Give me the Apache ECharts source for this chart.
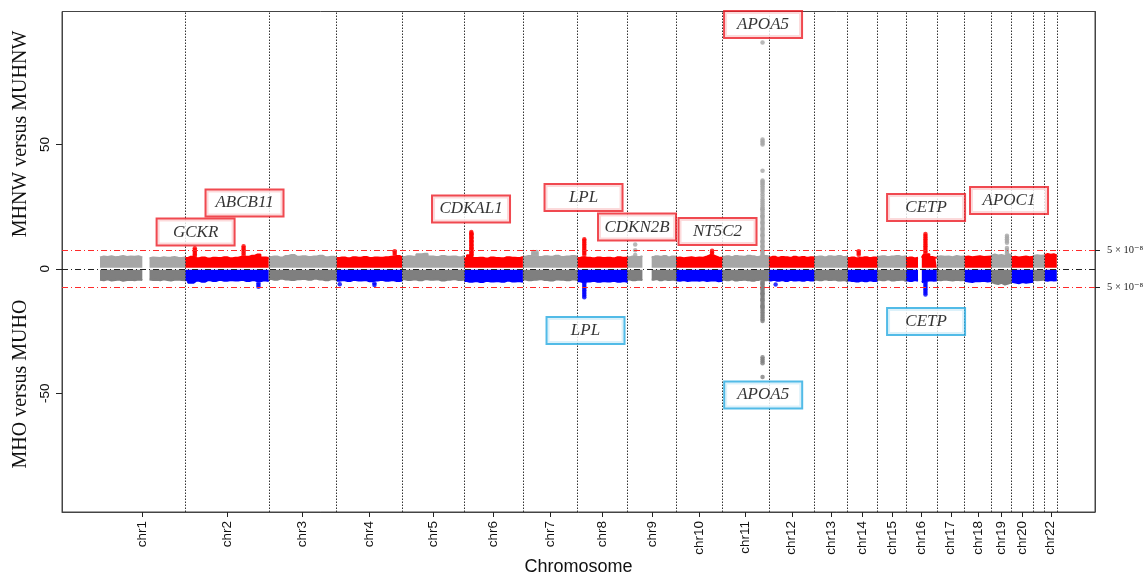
<!DOCTYPE html>
<html><head><meta charset="utf-8">
<script src="https://cdn.jsdelivr.net/npm/echarts@6/dist/echarts.min.js"></script>
<style>html,body{margin:0;padding:0;background:#fff}#c{width:1144px;height:576px}</style>
</head><body><div id="c"></div>
<script>
// ---- chromosome layout (Mb, first and last marker) ----
const chromNames = ['chr1','chr2','chr3','chr4','chr5','chr6','chr7','chr8','chr9','chr10','chr11','chr12','chr13','chr14','chr15','chr16','chr17','chr18','chr19','chr20','chr21','chr22'];
const chromStart = [0.75,0.01,0.06,0.07,0.01,0.2,0.04,0.16,0.2,0.1,0.19,0.19,19.0,20.0,20.1,0.08,0.01,0.01,0.26,0.06,14.6,16.1];
const chromEnd   = [249.2,243.1,197.9,191.0,180.8,171.0,159.1,146.3,141.1,135.5,134.9,133.8,115.1,107.3,102.4,90.2,81.1,78.0,59.1,62.9,48.1,51.2];
const genomeWide = 7.3;            // -log10(5e-8)
const yTickValues = [-50, 0, 50];
const thresholdLabel = '5 × 10⁻⁸';

// ---- marker-dense segments: [chromosome, fromMb, toMb] ----
const segments = [
  [1,0.75,124],[1,145,249.2],[2,0.01,243.1],[3,0.06,197.9],[4,0.07,191.0],[5,0.01,180.8],
  [6,0.2,171.0],[7,0.04,159.1],[8,0.16,146.3],[9,0.2,43],[9,70,141.1],[10,0.1,135.5],
  [11,0.19,134.9],[12,0.19,133.8],[13,19.0,115.1],[14,20.0,107.3],[15,20.1,102.4],
  [16,0.08,35.3],[16,46.4,90.2],[17,0.01,81.1],[18,0.01,78.0],[19,0.26,59.1],
  [20,0.06,62.9],[21,14.6,48.1],[22,16.1,51.2]
];
// upper envelope (MHNW vs MUHNW), -log10 p, evenly across each segment
const upperProfile = [
  [4.6,5.0,4.8,5.1,4.7,4.9,5.2,4.8,5.0,4.9,5.1,4.6],
  [4.3,4.6,4.5,4.4,4.7,4.5,4.6,4.8,4.5,4.4,4.6],
  [4.4,4.9,4.3,4.6,4.2,4.5,4.4,4.7,4.3,4.5,4.8,4.9,5.3,5.8,4.6,4.4],
  [4.8,5.0,4.6,5.2,5.6,4.9,5.1,4.8,5.0,5.3,4.7,4.9,4.6],
  [4.4,4.6,4.3,4.7,4.5,4.8,4.4,4.6,4.5,4.7,4.9,5.2,4.6],
  [4.8,5.1,4.9,5.9,6.1,5.0,4.8,5.2,4.9,5.0,4.7,5.1],
  [4.3,5.5,4.4,4.5,4.2,4.6,4.4,4.3,4.7,4.5,4.4,4.8],
  [4.9,5.2,5.0,4.8,5.1,4.9,5.3,4.8,5.0,5.2,4.9],
  [4.4,4.7,4.5,4.3,4.6,4.4,4.5,4.3,4.7,4.5,4.6],
  [4.7,5.0,4.8,5.1],
  [4.8,5.1,4.9,5.2,4.7,5.0,4.9],
  [4.4,4.6,4.3,4.5,4.7,4.4,4.6,4.5,5.0,5.6,5.2,4.6,4.5],
  [4.9,5.1,4.8,5.2,5.0,4.9,5.3,5.1,4.8,5.0,5.2,5.0],
  [4.6,4.9,4.5,4.8,4.7,4.5,4.9,4.6,4.8,4.5,4.7,4.6],
  [4.8,5.0,4.7,5.1,4.9,5.2,4.8,5.0],
  [4.4,4.6,4.3,4.5,4.7,4.4,4.6,4.5],
  [4.9,5.1,4.8,5.0,5.2,4.9,5.1],
  [4.4,4.6,4.3,4.5],
  [4.5,5.6,6.0,4.8,4.5,4.6],
  [4.8,5.1,4.9,5.0,4.7,5.2,4.9,5.0],
  [4.8,5.0,4.7,4.9,5.1,4.8,4.9,5.0],
  [5.3,5.8,5.4,5.6,5.2,5.9,5.5],
  [4.7,4.9,4.6,4.8,5.0,4.7,4.9],
  [5.2,5.5,5.3,5.4],
  [5.5,6.0,5.7,5.9,5.4]
];
// lower envelope (MHO vs MUHO), plotted as negative -log10 p
const lowerProfile = [
  [-4.4,-4.6,-4.2,-4.7,-4.5,-4.3,-4.8,-4.5,-4.4,-4.6,-4.3,-4.5],
  [-4.3,-4.5,-4.4,-4.6,-4.2,-4.5,-4.7,-4.4,-4.3,-4.5,-4.6],
  [-4.6,-5.6,-4.8,-5.2,-4.6,-4.9,-4.5,-4.8,-4.6,-4.7,-4.5,-4.9,-4.6,-5.0,-4.7,-4.9],
  [-4.1,-4.4,-4.0,-4.3,-4.5,-4.2,-4.1,-4.4,-4.0,-4.3,-4.6,-4.2,-4.4],
  [-4.8,-4.6,-4.9,-4.5,-4.7,-4.6,-5.0,-4.7,-4.5,-4.8,-4.6,-4.9,-4.7],
  [-4.2,-4.5,-4.3,-4.6,-4.2,-4.4,-4.3,-4.7,-4.4,-4.2,-4.5,-4.3],
  [-4.9,-5.2,-5.0,-5.3,-4.9,-5.1,-5.0,-5.2,-4.8,-5.1,-5.0,-5.2],
  [-4.3,-4.6,-4.4,-4.2,-4.5,-4.7,-4.3,-4.4,-4.6,-4.3,-4.5],
  [-5.0,-5.3,-5.1,-4.9,-5.2,-5.0,-5.1,-4.9,-5.2,-5.0,-5.3],
  [-4.3,-4.6,-4.4,-4.5],
  [-4.4,-4.2,-4.6,-4.3,-4.5,-4.4,-4.6],
  [-4.6,-4.8,-4.5,-4.9,-4.7,-4.6,-4.8,-4.5,-4.9,-4.7,-4.6,-5.0,-4.8],
  [-4.4,-4.6,-4.3,-4.7,-4.5,-4.4,-4.6,-4.8,-4.5,-4.3,-4.6,-4.4],
  [-4.7,-4.5,-4.8,-4.6,-4.9,-4.5,-4.7,-4.6,-4.8,-4.5,-4.7,-4.6],
  [-4.4,-4.6,-4.3,-4.5,-4.4,-4.7,-4.6,-5.2],
  [-4.7,-4.9,-5.1,-4.8,-5.0,-4.7,-4.9,-4.8],
  [-4.4,-4.6,-4.3,-4.7,-4.5,-4.4,-5.0],
  [-4.7,-4.9,-4.6,-4.8],
  [-5.4,-4.9,-4.8,-4.6,-4.8,-4.7],
  [-4.4,-4.6,-4.3,-4.5,-4.7,-4.4,-4.6,-4.5],
  [-4.8,-5.1,-5.3,-4.9,-5.0,-4.8,-5.1,-4.9],
  [-5.2,-5.8,-6.1,-5.6,-6.3,-5.9,-5.4],
  [-5.2,-5.5,-5.8,-5.3,-5.6,-5.4,-5.2],
  [-4.4,-4.6,-4.5,-4.3],
  [-4.6,-4.8,-4.5,-4.7,-4.6]
];
// individual strong signals: [chromosome, positionMb, values]
const upperHits = [
  [2,27.7,[8.3,7.6,7.0,6.4,5.8,5.2]],
  [2,169.8,[9.1,8.4,7.8,7.0,6.2,5.4]],
  [4,169.0,[7.1,6.4,5.6]],
  [6,20.7,[14.8,14.3,13.6,12.9,12.2,11.5,10.8,10.1,9.4,8.7,8.0,7.3,6.6,5.9]],
  [6,21.6,[13.9,12.5,11.0,9.6,8.2,6.8,5.6]],
  [7,30.0,[6.8,6.2,5.6]],
  [7,40.0,[6.8,6.1,5.5]],
  [8,19.8,[11.9,11.3,10.6,9.9,9.2,8.5,7.8,7.1,6.4,5.7]],
  [9,22.0,[9.8,7.5,5.6]],
  [10,104.8,[7.3,6.6,5.9]],
  [11,116.6,[91.0,52.0,51.3,50.6,50.0,39.5,35.5,35.0,34.5,34.0,33.2,32.5,31.8,31.0,30.0,29.0,28.0,27.2,26.4,25.6,24.8,24.0,23.2,22.4,21.6,20.8,20.0,19.2,18.4,17.6,16.8,16.0,15.2,14.4,13.6,12.8,12.0,11.2,10.4,9.6,8.8,8.0,7.2,6.4,5.6]],
  [11,116.1,[24.0,21.0,18.5,16.0,13.5,11.0,9.0,7.0,5.5]],
  [14,52.0,[7.1,6.4,5.7]],
  [16,57.0,[14.0,13.3,12.6,11.9,11.2,10.5,9.8,9.1,8.4,7.7,7.0,6.3]],
  [19,45.4,[13.3,12.6,11.9,11.2,10.5,8.4,7.6,6.9,6.2]]
];
const lowerHits = [
  [2,213.0,[-7.2,-6.5,-5.8]],
  [4,9.0,[-6.2]],
  [4,110.0,[-6.5,-5.8]],
  [8,19.8,[-11.4,-10.7,-10.0,-9.3,-8.6,-7.9,-7.2,-6.5,-5.8]],
  [11,116.6,[-43.5,-38.0,-37.2,-36.4,-35.6,-21.0,-20.3,-19.6,-18.9,-18.2,-17.5,-16.8,-16.1,-15.4,-14.7,-14.0,-13.3,-12.6,-11.9,-11.2,-10.5,-9.8,-9.1,-8.4,-7.7,-7.0,-6.3,-5.6,-5.0]],
  [11,116.1,[-15.0,-12.5,-10.0,-8.0,-6.0]],
  [12,20.0,[-6.3]],
  [16,57.0,[-10.3,-9.6,-8.9,-8.2,-7.5,-6.8,-6.1,-5.4]]
];
// gene annotations: name, chromosome, label position (Mb), label height
const annoGene = ['GCKR','ABCB11','CDKAL1','LPL','CDKN2B','NT5C2','APOA5','CETP','APOC1','LPL','APOA5','CETP'];
const annoChr  = [2,2,6,8,9,10,11,16,19,8,11,16];
const annoPos  = [30.0,172.5,19.8,17.6,27.3,120.8,118.1,58.8,51.4,23.4,118.5,58.8];
const annoY    = [14.8,26.5,24.1,28.7,16.8,15.0,98.3,24.7,27.5,-24.8,-50.7,-21.2];

// ---- derived genome coordinates ----
const spans = chromStart.map((s,i)=>chromEnd[i]-s);
const offsets = []; let acc = 0;
spans.forEach(s=>{offsets.push(acc); acc += s;});
const total = acc;
const gx = (chr,pos)=>offsets[chr-1] + pos - chromStart[chr-1];
const centers = spans.map((s,i)=>offsets[i]+s/2);
const ends = spans.map((s,i)=>offsets[i]+s);

const C_UP_ODD='#a6a6a6', C_UP_EVEN='#ff0000', C_LO_ODD='#7f7f7f', C_LO_EVEN='#0000ff';
const series = [];
function bandSeries(prof, upper){
  segments.forEach((seg,k)=>{
    const [chr,a,b] = seg; const v = prof[k]; const n = v.length;
    const data = v.map((y,j)=>[gx(chr, a + (b-a)*j/(n-1)), y]);
    const odd = chr % 2 === 1;
    const col = upper ? (odd?C_UP_ODD:C_UP_EVEN) : (odd?C_LO_ODD:C_LO_EVEN);
    series.push({type:'line', data, symbol:'none', silent:true, z:2, step:'middle',
      lineStyle:{color:col,width:2}, areaStyle:{color:col,opacity:1,origin:upper?0.4:-0.4}});
  });
}
bandSeries(upperProfile,true);
bandSeries(lowerProfile,false);
function hitSeries(hits, upper, oddGroup){
  const data=[];
  hits.forEach(([chr,pos,vals])=>{ if((chr%2===1)!==oddGroup) return; vals.forEach(v=>data.push([gx(chr,pos),v])); });
  const col = upper ? (oddGroup?C_UP_ODD:C_UP_EVEN) : (oddGroup?C_LO_ODD:C_LO_EVEN);
  series.push({type:'scatter', data, symbolSize:4.5, silent:true, z:3, itemStyle:{color:col}});
}
hitSeries(upperHits,true,true); hitSeries(upperHits,true,false);
hitSeries(lowerHits,false,true); hitSeries(lowerHits,false,false);

// reference lines
const dash = [6,3,1,3];
series.push({type:'line', data:[], z:5, silent:true, markLine:{symbol:['none','none'], silent:true, animation:false,
  label:{show:false},
  data: ends.map(e=>({xAxis:e, lineStyle:{type:[1.5,1.5],color:'#333',width:1}}))
    .concat([{yAxis:0, lineStyle:{type:dash,color:'#222',width:1}},
             {yAxis:genomeWide, lineStyle:{type:dash,color:'#ff2a2a',width:1}},
             {yAxis:-genomeWide, lineStyle:{type:dash,color:'#ff2a2a',width:1}}])
}});
// annotations
series.push({type:'scatter', z:10, silent:true, symbolSize:0,
  data: annoGene.map((g,i)=>({name:g, value:[gx(annoChr[i],annoPos[i]), annoY[i]],
    label:{borderColor: annoY[i]>0 ? '#ec1c24' : '#27aae1'}})),
  label:{show:true, position:'inside', formatter:p=>p.name, fontFamily:'Liberation Serif, Times New Roman, serif',
    fontStyle:'italic', fontSize:17, color:'#000', backgroundColor:'#fff', borderWidth:2,
    padding:[3,6], width:64, align:'center', lineHeight:19}
});

const axisLn = {show:true, onZero:false, lineStyle:{color:'#444', width:1}};
const chart = echarts.init(document.getElementById('c'), null, {renderer:'canvas'});
chart.setOption({
  animation:false,
  textStyle:{fontFamily:'Liberation Sans, Arial, sans-serif'},
  grid:{left:62, right:49, top:11.5, bottom:64, containLabel:false, outerBoundsMode:'none',
    show:true, borderColor:'#444', borderWidth:1, backgroundColor:'transparent'},
  xAxis:{type:'value', min:-110.7, max:total+111.3, splitLine:{show:false},
    axisLine:axisLn,
    axisTick:{show:true, customValues:centers, length:5, lineStyle:{color:'#222', width:1}},
    axisLabel:{customValues:centers, rotate:90, margin:9, fontSize:13.5, color:'#111', hideOverlap:false,
      showMinLabel:true, showMaxLabel:true,
      formatter:v=>{const i=centers.findIndex(c=>Math.abs(c-v)<1e-6); return i>=0?chromNames[i]:'';}}},
  yAxis:[
    {type:'value', min:-97.8, max:103.5, splitLine:{show:false}, axisLine:axisLn,
     axisTick:{show:true, customValues:yTickValues, length:6, lineStyle:{color:'#222', width:1}},
     axisLabel:{customValues:yTickValues, rotate:90, margin:10, fontSize:13.5, color:'#111'}},
    {type:'value', position:'right', min:-97.8, max:103.5, splitLine:{show:false}, axisLine:axisLn,
     axisTick:{show:true, customValues:[genomeWide,-genomeWide], length:5, lineStyle:{color:'#222', width:1}},
     axisLabel:{customValues:[genomeWide,-genomeWide], margin:12, fontSize:10.5, color:'#222',
       fontFamily:'Liberation Serif, DejaVu Serif, serif', formatter:()=>thresholdLabel}}
  ],
  graphic:[
    {type:'text', x:21, y:134, rotation:Math.PI/2, style:{text:'MHNW versus MUHNW', font:'20px "Liberation Serif", "Times New Roman", serif', fill:'#111', textAlign:'center', textVerticalAlign:'middle'}},
    {type:'text', x:21, y:384, rotation:Math.PI/2, style:{text:'MHO versus MUHO', font:'20px "Liberation Serif", "Times New Roman", serif', fill:'#111', textAlign:'center', textVerticalAlign:'middle'}},
    {type:'text', x:578.5, y:567, style:{text:'Chromosome', font:'18px "Liberation Sans", Arial, sans-serif', fill:'#111', textAlign:'center', textVerticalAlign:'middle'}}
  ],
  series
});
</script></body></html>
